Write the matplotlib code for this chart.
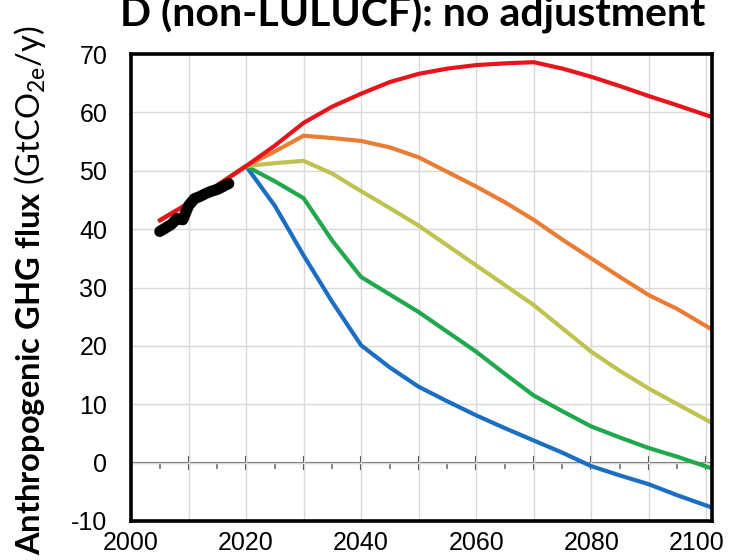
import numpy as np
import matplotlib
matplotlib.use("Agg")
import matplotlib.pyplot as plt
from matplotlib.ticker import MultipleLocator
import matplotlib.transforms as mtransforms

# ---- data -------------------------------------------------------------
years = [2005, 2010, 2015, 2020, 2025, 2030, 2035, 2040, 2045, 2050,
         2055, 2060, 2065, 2070, 2075, 2080, 2085, 2090, 2095, 2101]

red = [41.5, 44.4, 47.5, 50.8, 54.3, 58.2, 61.0, 63.2, 65.2, 66.6,
       67.5, 68.1, 68.4, 68.6, 67.5, 66.1, 64.5, 62.8, 61.2, 59.2]
orange = [41.5, 44.4, 47.5, 50.8, 53.3, 56.0, 55.6, 55.1, 54.0, 52.3,
          49.8, 47.3, 44.6, 41.6, 38.2, 35.0, 31.8, 28.7, 26.3, 22.8]
yellowgreen = [41.5, 44.4, 47.5, 50.8, 51.3, 51.7, 49.5, 46.5, 43.6, 40.6,
               37.2, 33.8, 30.4, 27.0, 23.0, 19.0, 15.7, 12.7, 10.0, 6.8]
green = [41.5, 44.4, 47.5, 50.8, 48.2, 45.3, 38.0, 31.8, 28.8, 25.8,
         22.4, 19.0, 15.2, 11.5, 8.8, 6.2, 4.3, 2.5, 1.0, -1.0]
blue = [41.5, 44.4, 47.5, 50.8, 44.0, 35.5, 27.5, 20.1, 16.3, 13.0,
        10.5, 8.1, 5.9, 3.8, 1.7, -0.6, -2.2, -3.7, -5.6, -7.7]

hist_years = [2005, 2006, 2007, 2008, 2009, 2010, 2011, 2012, 2013, 2014,
              2015, 2016, 2017]
hist = [39.6, 40.2, 40.8, 41.8, 41.6, 44.0, 45.2, 45.6, 46.1, 46.5,
        46.8, 47.3, 47.8]

xticks = [2000, 2020, 2040, 2060, 2080, 2100]
yticks = [-10, 0, 10, 20, 30, 40, 50, 60, 70]

# ---- styling ----------------------------------------------------------
plt.rcParams["mathtext.fontset"] = "custom"
plt.rcParams["mathtext.rm"] = "Lato"
plt.rcParams["mathtext.bf"] = "Lato:bold"
plt.rcParams["mathtext.it"] = "Lato:italic"
plt.rcParams["axes.unicode_minus"] = False

fig = plt.figure(figsize=(7.3, 5.6), dpi=100)
ax = fig.add_axes([131 / 730, 1 - 521 / 560, (712 - 131) / 730, (521 - 54) / 560])

series = [
    (blue, "#1b6fc2"),
    (green, "#1fa84c"),
    (yellowgreen, "#bec350"),
    (orange, "#ea7d36"),
    (red, "#e8141b"),
]
for vals, col in series:
    ax.plot(years, vals, color=col, lw=3.0, solid_capstyle="round",
            solid_joinstyle="round", zorder=3)

ax.plot(hist_years, hist, color="black", lw=8.0, solid_capstyle="round",
        solid_joinstyle="round", zorder=4)

ax.set_xlim(2000, 2101)
ax.set_ylim(-10, 70)
ax.set_xticks(xticks)
ax.set_yticks(yticks)
ax.xaxis.set_minor_locator(MultipleLocator(10))
ax.grid(True, which="both", color="#d9d9d9", lw=1.0, zorder=0)
ax.tick_params(axis="both", which="both", length=0, labelsize=18)
ax.tick_params(axis="x", pad=7)
ax.tick_params(axis="y", pad=17)
for lbl in ax.get_xticklabels() + ax.get_yticklabels():
    lbl.set_fontfamily("Liberation Sans")
for sp in ax.spines.values():
    sp.set_linewidth(2.6)
    sp.set_color("black")
    sp.set_zorder(5)

# keep the last year label inside the canvas
last = ax.get_xticklabels()[-1]
last.set_transform(last.get_transform() +
                   mtransforms.ScaledTranslation(-10 / 100, 0, fig.dpi_scale_trans))

# zero line carrying its own tick marks
zero_axis = ax.secondary_xaxis(10 / 80)
zero_axis.spines["bottom"].set_color("#6e6e6e")
zero_axis.spines["bottom"].set_linewidth(1.5)
zero_axis.set_xticks(np.arange(2010, 2101, 10))
zero_axis.xaxis.set_minor_locator(MultipleLocator(5))
zero_axis.tick_params(axis="x", which="major", direction="inout", length=10,
                      width=1.5, color="#3c3c3c", labelbottom=False)
zero_axis.tick_params(axis="x", which="minor", direction="out", length=4,
                      width=1.2, color="#6e6e6e")

fig.text(413 / 730, 1 - 27 / 560, "D (non-LULUCF): no adjustment",
         ha="center", va="baseline", fontsize=29.5, fontweight="bold",
         fontfamily="Lato")

fig.text(30 / 730, 1 - 290 / 560,
         r"$\mathbf{Anthropogenic\ GHG\ flux}$ (GtCO$_{\mathrm{2e}}$/y)",
         rotation=90, ha="center", va="center", fontsize=23.5, fontfamily="Lato")

fig.savefig("out.png", dpi=100)
